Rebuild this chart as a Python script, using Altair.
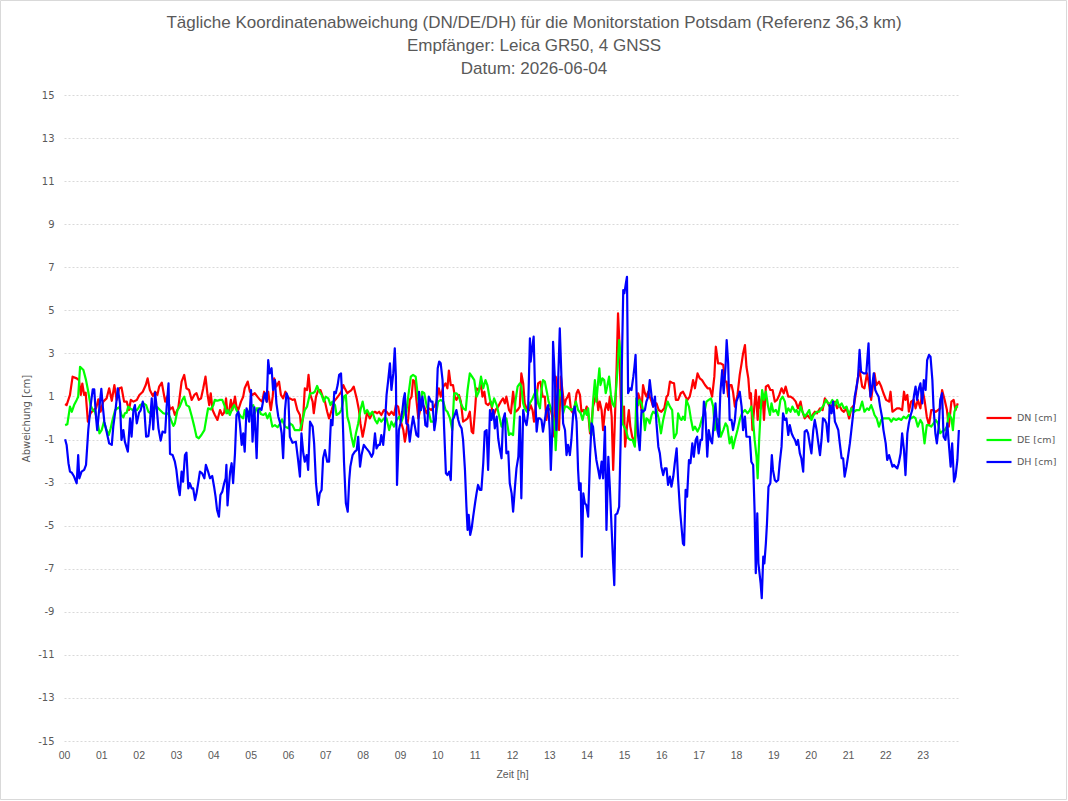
import altair as alt
import pandas as pd

# Tägliche Koordinatenabweichungen der Monitorstation Potsdam, Stunde des Tages -> cm
DN_H = [0.03, 0.07, 0.16, 0.23, 0.34, 0.4, 0.45, 0.49, 0.54, 0.58, 0.64, 0.71, 0.79, 0.86, 0.92, 0.98, 1.05, 1.14, 1.21, 1.28, 1.35, 1.41, 1.48, 1.54, 1.61, 1.68, 1.74, 1.79, 1.86, 1.95, 2.02, 2.11, 2.19, 2.24, 2.3, 2.38, 2.44, 2.5, 2.55, 2.62, 2.71, 2.77, 2.84, 2.91,
        2.97, 3.06, 3.15, 3.22, 3.28, 3.35, 3.42, 3.49, 3.55, 3.61, 3.67, 3.73, 3.79, 3.84, 3.89, 3.93, 3.98, 4.04, 4.11, 4.18, 4.24, 4.29, 4.34, 4.38, 4.43, 4.47, 4.51, 4.58, 4.62, 4.67, 4.74, 4.8, 4.84, 4.92, 4.98, 5.04, 5.11, 5.18, 5.25, 5.31, 5.36, 5.43, 5.47, 5.54, 5.59, 5.63, 5.69, 5.76, 5.81, 5.87, 5.93, 6.01,
        6.05, 6.12, 6.18, 6.25, 6.32, 6.36, 6.41, 6.45, 6.51, 6.55, 6.6, 6.66, 6.69, 6.75, 6.81, 6.87, 6.93, 6.99, 7.05, 7.1, 7.17, 7.23, 7.3, 7.37, 7.43, 7.48, 7.52, 7.59, 7.64, 7.7, 7.76, 7.84, 7.9, 7.94, 8.0, 8.06, 8.12, 8.19, 8.26, 8.33, 8.39, 8.44, 8.5, 8.57, 8.64, 8.71, 8.77, 8.84, 8.89, 8.95, 9.01, 9.09,
        9.13, 9.17, 9.22, 9.26, 9.31, 9.35, 9.4, 9.44, 9.49, 9.53, 9.59, 9.65, 9.71, 9.77, 9.84, 9.92, 9.98, 10.04, 10.09, 10.16, 10.22, 10.27, 10.31, 10.36, 10.42, 10.47, 10.51, 10.58, 10.63, 10.69, 10.76, 10.81, 10.87, 10.92, 10.96, 11.01, 11.05, 11.11, 11.17, 11.21, 11.26, 11.3, 11.36, 11.43, 11.5, 11.56, 11.63, 11.7, 11.76, 11.81, 11.85, 11.92, 11.97, 12.03, 12.09, 12.15,
        12.21, 12.25, 12.3, 12.34, 12.39, 12.46, 12.5, 12.55, 12.59, 12.64, 12.7, 12.76, 12.82, 12.88, 12.92, 12.97, 13.03, 13.08, 13.13, 13.17, 13.22, 13.26, 13.31, 13.35, 13.4, 13.44, 13.49, 13.53, 13.58, 13.64, 13.68, 13.73, 13.77, 13.82, 13.86, 13.91, 13.95, 14.0, 14.04, 14.09, 14.13, 14.17, 14.22, 14.26, 14.31, 14.35, 14.4, 14.44, 14.49, 14.53, 14.58, 14.62, 14.67, 14.71, 14.75, 14.8, 14.84, 14.87, 14.91, 14.96, 15.0, 15.03, 15.08, 15.13, 15.17, 15.22, 15.26,
        15.29, 15.33, 15.38, 15.42, 15.47, 15.51, 15.56, 15.6, 15.65, 15.69, 15.74, 15.78, 15.83, 15.87, 15.93, 16.0, 16.08, 16.14, 16.18, 16.23, 16.29, 16.34, 16.39, 16.45, 16.52, 16.58, 16.65, 16.7, 16.76, 16.81, 16.85, 16.9, 16.97, 17.03, 17.09, 17.17, 17.24, 17.3, 17.36, 17.42, 17.46, 17.52, 17.59, 17.66, 17.7, 17.75, 17.79, 17.83, 17.88, 17.92, 17.97, 18.04, 18.1, 18.15, 18.19, 18.24, 18.28, 18.33,
        18.37, 18.4, 18.44, 18.49, 18.53, 18.58, 18.62, 18.66, 18.71, 18.75, 18.8, 18.86, 18.92, 18.98, 19.04, 19.1, 19.16, 19.22, 19.28, 19.33, 19.4, 19.46, 19.53, 19.6, 19.66, 19.73, 19.78, 19.84, 19.91, 19.98, 20.05, 20.11, 20.17, 20.25, 20.32, 20.38, 20.44, 20.51, 20.58, 20.65, 20.71, 20.76, 20.83, 20.89, 20.96, 21.03, 21.09, 21.16, 21.21, 21.27,
        21.31, 21.38, 21.44, 21.51, 21.56, 21.62, 21.67, 21.71, 21.76, 21.83, 21.89, 21.95, 22.02, 22.1, 22.14, 22.19, 22.25, 22.31, 22.38, 22.45, 22.5, 22.54, 22.59, 22.63, 22.69, 22.76, 22.81, 22.87, 22.94, 22.99, 23.05, 23.11, 23.17, 23.23, 23.29, 23.35, 23.41, 23.47, 23.52, 23.59, 23.65, 23.7, 23.77, 23.83, 23.88, 23.94]
DN_V = [0.65, 0.6, 1.07, 1.92, 1.84, 1.76, 1.07, 1.6, 1.07, 1.18, -0.17, 0.22, 0.37, 0.45, 0.87, 0.29, 0.76, 0.91, 1.38, 0.8, 1.53, 0.84, 1.38, 1.42, 0.76, 0.76, 0.37, 0.84, 0.76, 0.84, 1.07, 1.22, 1.53, 1.84, 1.3, 1.02, 1.22, 1.07, 1.46, 1.64, 0.76, 1.02, 0.4, 0.5,
        0.14, 0.45, 1.69, 2.0, 1.38, 1.3, 0.84, 1.07, 1.15, 0.84, 0.91, 1.38, 1.92, 1.15, 0.6, 1.15, 0.37, 0.14, -0.09, 0.37, 0.14, 0.25, 0.91, 0.22, 0.37, 0.84, 0.37, 0.99, 0.53, 0.37, 0.76, 0.99, 1.38, 1.69, 1.22, 1.07, 1.15, 0.99, 0.84, 0.76, 1.22, 0.76, 1.22, 0.37, 0.99, 1.84, 1.46, 1.69, 1.07, 0.91, 1.22, 0.91,
        0.91, 0.84, 0.87, 0.37, 0.14, -0.56, 0.14, 1.38, 1.3, 2.0, 1.07, 0.76, 0.22, 0.99, 1.3, 1.3, 0.99, 0.76, 0.29, -0.02, 0.37, 0.76, 0.91, 1.07, 1.22, 1.53, 1.38, 1.15, 1.22, 1.3, 1.46, 0.91, 0.37, -0.25, -0.87, -0.33, 0.29, -0.02, 0.22, 0.29, 0.22, 0.29, 0.14, 0.37, 0.29, 0.14, 0.29, 0.14, 0.6, 0.53, -0.09, -0.56,
        -1.1, -0.71, -0.02, 0.84, 0.99, 1.76, 1.69, 0.84, -0.02, 0.29, 0.6, 0.53, 0.22, 0.45, 0.37, 0.53, 0.76, 1.38, 0.99, 1.46, 1.61, 1.38, 2.2, 1.53, 1.53, 0.99, 0.84, 1.07, 0.76, -0.17, -0.09, -0.02, 0.29, -0.63, -0.71, 0.37, 1.38, 1.3, 1.53, 0.99, 1.22, 0.68, 0.6, 0.76, 0.06, 0.37, 0.53, 0.76, 0.91, 0.68, 0.99, 0.37, 0.22, 1.22, 0.29, 0.37,
        0.53, 2.07, 1.61, 0.68, 0.45, 0.37, 0.6, 0.37, -0.17, 0.68, 1.61, 1.69, 0.99, 0.99, -0.09, 0.37, 0.45, 0.06, -0.87, 1.92, 1.61, -0.56, 1.92, 1.3, 0.53, 0.84, 0.99, 1.15, 0.37, 0.22, 0.53, 1.15, 1.3, 1.07, 0.29, 0.37, 0.22, 0.53, 0.22, -0.71, -0.25, 0.53, 0.84, 1.22, 0.37, 0.76, 0.37, -0.56, 0.37, 0.68, 0.37, 0.99, 0.06, -2.41, -0.4, 2.23, 4.86, 3.78, 0.99, -0.25, 0.53, -1.33, -0.4, 0.37, -0.4, -0.87, -1.02,
        -1.25, -0.09, 1.15, 0.91, 0.37, 1.53, 1.15, 0.99, 1.22, 0.99, 0.76, 0.53, 0.68, 0.68, 0.37, 0.29, 0.45, 0.99, 1.07, 1.69, 1.64, 1.61, 0.84, 0.84, 1.15, 1.22, 0.99, 0.84, 0.99, 1.38, 1.76, 1.38, 2.07, 1.84, 1.76, 1.53, 1.38, 1.38, 0.99, 1.92, 3.31, 2.54, 2.54, 2.46, 1.69, 1.69, 0.99, 1.53, 1.53, 1.22, 0.53, 1.07, 2.0, 2.54, 3.0, 3.39, 2.38, 1.84,
        0.91, 1.15, -0.56, 0.53, 1.3, -0.09, 0.99, 0.45, 1.07, -0.09, 1.46, 1.53, 1.3, 1.3, 0.76, 0.84, 1.07, 1.38, 1.15, 1.46, 0.99, 0.99, 0.91, 0.76, 0.45, 0.76, 0.29, -0.02, 0.14, -0.02, 0.14, 0.29, 0.22, 0.45, 0.37, 0.91, 0.76, 0.53, 0.6, 0.76, 0.45, 0.6, 0.37, 0.29, 0.45, -0.02, 0.45, 0.6, 1.15, 1.92,
        2.23, 1.46, 1.38, 2.07, 1.61, 0.84, 1.53, 2.07, 1.53, 1.69, 1.46, 1.15, 0.84, 0.76, 1.22, 0.29, 0.37, 0.45, 0.45, 0.37, 1.22, 0.84, 1.07, 0.29, 0.76, 0.84, 0.45, 0.84, 0.45, 1.38, 0.84, 0.06, -0.33, 0.37, 0.37, 0.29, 0.37, 0.45, 1.3, 0.84, 0.37, -0.4, 0.76, 0.84, 0.37, 0.68]

DE_H = [0.03, 0.09, 0.16, 0.21, 0.27, 0.34, 0.38, 0.43, 0.52, 0.59, 0.65, 0.71, 0.77, 0.83, 0.89, 0.95, 1.01, 1.07, 1.14, 1.2, 1.25, 1.3, 1.37, 1.43, 1.48, 1.54, 1.59, 1.63, 1.68, 1.72, 1.77, 1.84, 1.9, 1.96, 2.04, 2.13, 2.2, 2.26, 2.32, 2.39, 2.44, 2.5, 2.57, 2.66, 2.73, 2.79, 2.86, 2.93,
        2.97, 3.04, 3.1, 3.17, 3.22, 3.28, 3.35, 3.42, 3.49, 3.55, 3.61, 3.68, 3.76, 3.82, 3.86, 3.93, 4.0, 4.04, 4.11, 4.18, 4.24, 4.31, 4.35, 4.4, 4.44, 4.51, 4.56, 4.62, 4.68, 4.74, 4.8, 4.84, 4.89, 4.95, 5.01, 5.07, 5.11, 5.16, 5.22, 5.27, 5.34, 5.4, 5.45, 5.51, 5.58, 5.65, 5.72, 5.78, 5.84, 5.92, 6.01,
        6.05, 6.12, 6.18, 6.25, 6.32, 6.39, 6.45, 6.51, 6.59, 6.66, 6.72, 6.78, 6.84, 6.9, 6.96, 7.01, 7.08, 7.14, 7.19, 7.26, 7.3, 7.37, 7.43, 7.5, 7.55, 7.59, 7.64, 7.7, 7.76, 7.82, 7.88, 7.94, 8.0, 8.06, 8.12, 8.19, 8.26, 8.33, 8.39, 8.44, 8.5, 8.57, 8.64, 8.71, 8.77, 8.84, 8.91, 8.98, 9.04, 9.1,
        9.13, 9.17, 9.22, 9.29, 9.35, 9.42, 9.49, 9.56, 9.59, 9.65, 9.71, 9.77, 9.83, 9.89, 9.95, 10.02, 10.09, 10.16, 10.22, 10.27, 10.34, 10.4, 10.45, 10.51, 10.58, 10.63, 10.69, 10.76, 10.81, 10.87, 10.93, 10.99, 11.05, 11.11, 11.17, 11.23, 11.29, 11.34, 11.41, 11.47, 11.52, 11.59, 11.65, 11.72, 11.79, 11.85, 11.92, 11.97, 12.03, 12.09, 12.15,
        12.21, 12.25, 12.3, 12.34, 12.4, 12.48, 12.55, 12.61, 12.66, 12.7, 12.75, 12.79, 12.83, 12.88, 12.94, 12.98, 13.06, 13.1, 13.15, 13.17, 13.22, 13.26, 13.33, 13.37, 13.42, 13.48, 13.53, 13.59, 13.66, 13.71, 13.77, 13.84, 13.89, 13.95, 14.0, 14.04, 14.09, 14.13, 14.17, 14.22, 14.26, 14.31, 14.34, 14.37, 14.42, 14.47, 14.51, 14.55, 14.6, 14.65, 14.69, 14.74, 14.78, 14.83, 14.87, 14.92, 14.96, 15.0, 15.05, 15.11, 15.17, 15.23,
        15.29, 15.33, 15.38, 15.42, 15.47, 15.51, 15.56, 15.6, 15.65, 15.69, 15.74, 15.78, 15.83, 15.87, 15.93, 15.99, 16.05, 16.11, 16.17, 16.23, 16.29, 16.34, 16.41, 16.45, 16.5, 16.54, 16.58, 16.63, 16.67, 16.74, 16.79, 16.85, 16.9, 16.97, 17.03, 17.09, 17.15, 17.21, 17.27, 17.33, 17.39, 17.43, 17.48, 17.54, 17.59, 17.66, 17.72, 17.77, 17.83, 17.88, 17.92, 17.97, 18.04, 18.1, 18.16, 18.24, 18.31,
        18.37, 18.41, 18.46, 18.5, 18.55, 18.58, 18.62, 18.66, 18.7, 18.75, 18.8, 18.86, 18.91, 18.95, 19.0, 19.07, 19.13, 19.19, 19.25, 19.31, 19.35, 19.4, 19.46, 19.51, 19.58, 19.62, 19.68, 19.73, 19.78, 19.84, 19.91, 19.96, 20.02, 20.08, 20.16, 20.23, 20.29, 20.35, 20.41, 20.47, 20.53, 20.58, 20.65, 20.71, 20.76, 20.83, 20.89, 20.96, 21.03, 21.09, 21.16, 21.23,
        21.31, 21.38, 21.44, 21.51, 21.56, 21.62, 21.67, 21.71, 21.77, 21.83, 21.89, 21.95, 22.02, 22.1, 22.16, 22.22, 22.29, 22.36, 22.43, 22.49, 22.56, 22.63, 22.69, 22.76, 22.81, 22.87, 22.94, 22.99, 23.05, 23.11, 23.17, 23.23, 23.29, 23.35, 23.41, 23.47, 23.52, 23.59, 23.65, 23.7, 23.77, 23.81, 23.85, 23.9, 23.95]
DE_V = [-0.33, -0.29, 0.53, 0.29, 0.6, 0.84, 0.99, 2.38, 2.23, 1.76, 1.22, 0.6, 0.37, 0.29, -0.09, -0.71, -0.56, -0.17, -0.56, -0.79, -0.48, -0.09, 0.37, 0.45, 0.5, 0.14, 0.03, 0.22, 0.25, 0.53, 0.45, 0.37, 0.4, 0.37, 0.6, 0.68, 0.6, 0.29, 0.22, 0.37, 0.45, 0.5, 0.37, 0.22, 0.19, 0.22, -0.06, -0.37,
        -0.25, 0.37, 0.53, 0.84, 0.99, 0.6, 0.53, 0.09, -0.4, -0.87, -0.94, -0.79, -0.56, 0.06, 0.45, 0.4, 0.6, 0.84, 0.8, 0.84, 0.84, 0.53, 0.22, 0.37, 0.14, 0.45, 0.6, 0.37, 0.22, 0.06, -0.02, 0.37, 0.06, 0.22, 0.53, 0.6, 0.22, 0.45, 0.45, 0.19, 0.14, 0.22, -0.02, 0.22, -0.4, -0.33, -0.43, -0.28, -0.06, -0.4, -0.48,
        -0.25, -0.33, -0.56, -0.56, -0.56, -0.09, 0.37, 0.53, 1.15, 1.15, 1.22, 1.49, 1.22, 1.07, 0.76, 0.99, 0.91, 0.6, 0.76, 0.6, 0.14, 0.22, 0.37, 0.99, 1.07, 0.06, -0.25, -0.87, -1.33, -0.71, -0.25, 0.37, 0.76, 0.22, 0.37, 0.14, 0.29, -0.09, -0.25, -0.02, -0.17, -0.02, -0.02, -0.56, -0.17, -0.4, -0.09, 0.06, -0.17, 0.14,
        0.68, 0.29, 0.99, 1.92, 2.0, 1.92, 0.84, 0.37, 1.22, 1.15, 0.6, 0.29, -0.17, -0.17, -0.02, 0.76, 0.84, 0.76, 0.37, 0.29, -0.02, -0.56, 1.15, 1.15, 0.99, 0.68, 0.45, 0.37, 1.3, 2.07, 1.92, 1.76, 0.99, 1.22, 1.92, 1.38, 1.76, 1.53, 0.84, 0.53, 0.91, 0.6, 0.14, -0.4, -0.09, -0.02, -0.79, -0.71, -0.79, 0.76, 1.46,
        1.61, 1.46, 0.68, 0.45, 0.29, 0.68, 0.91, 1.15, 1.3, 0.68, 0.45, 1.3, 1.76, 1.69, 1.15, 0.76, 0.37, 0.06, -0.56, -1.49, 0.22, 1.3, 0.99, 0.22, 0.53, 0.53, 0.45, 0.37, 0.45, 0.76, 0.37, 0.22, -0.09, 0.37, 0.14, 0.45, -0.56, -0.79, 0.76, 1.76, 0.76, 1.76, 2.31, 1.53, 1.84, 1.76, 1.15, 1.46, 1.92, 1.07, 0.68, 0.53, 1.15, 2.38, 3.62, 2.69, -0.25, -0.4, -0.56, -0.94, -1.02, -1.02,
        -1.33, 0.91, 0.6, 0.84, 0.68, 0.37, -0.56, -0.02, -0.09, -0.25, 0.14, 0.29, 0.22, 0.37, -0.02, -0.71, -0.09, 0.37, 0.76, 0.53, 0.37, -0.94, -0.71, 0.22, -0.02, -0.09, 0.06, -0.09, 0.84, 0.53, -0.02, -0.56, -0.4, -0.63, -0.4, -0.02, 0.22, 0.76, 0.84, 0.91, 0.53, -0.56, -0.02, -0.09, -0.87, -0.56, -0.25, -0.4, -1.18, -0.87, -1.41, -1.02, -0.56, -0.09, 0.22, 0.37, 0.22,
        0.37, 0.53, -0.17, -1.02, -1.8, -2.8, -1.02, 0.29, 1.3, 0.84, 1.22, 0.53, 0.14, 0.68, 0.29, 0.37, 0.14, 0.84, 0.99, 0.76, 0.22, 0.45, 0.29, 0.53, 0.29, 0.37, 0.14, 0.53, 0.29, 0.06, 0.22, 0.37, -0.09, 0.14, 0.29, 0.29, 0.45, 0.6, 0.84, 0.68, 0.68, 0.84, 0.6, 0.84, 0.53, 0.68, 0.45, 0.53, 0.14, 0.45, 0.29, 0.37,
        0.37, 0.76, 0.29, 0.45, 0.37, 0.6, 0.37, 0.14, -0.02, -0.4, -0.09, -0.02, -0.02, -0.02, -0.17, -0.02, -0.09, -0.02, -0.09, 0.06, -0.02, 0.14, -0.02, 0.06, -0.02, -0.4, -0.09, -0.25, -1.18, -0.33, -0.33, -0.4, -0.25, -0.09, -0.25, -0.71, -0.63, -0.56, -0.4, 0.22, -0.02, -0.56, 0.29, 0.53, 0.53]

DH_H = [0.03, 0.07, 0.12, 0.16, 0.21, 0.27, 0.34, 0.38, 0.41, 0.47, 0.54, 0.59, 0.65, 0.71, 0.77, 0.81, 0.86, 0.89, 0.95, 1.0, 1.04, 1.08, 1.14, 1.21, 1.28, 1.32, 1.39, 1.44, 1.5, 1.54, 1.59, 1.63, 1.71, 1.77, 1.81, 1.86, 1.9, 1.95, 2.01, 2.05, 2.11, 2.15, 2.2, 2.26, 2.3, 2.35, 2.39, 2.44, 2.48, 2.53, 2.59, 2.64, 2.71, 2.75, 2.8, 2.84, 2.91,
        2.97, 3.01, 3.06, 3.1, 3.15, 3.19, 3.24, 3.28, 3.33, 3.37, 3.42, 3.46, 3.51, 3.55, 3.6, 3.64, 3.7, 3.76, 3.8, 3.86, 3.91, 3.97, 4.02, 4.06, 4.1, 4.15, 4.19, 4.24, 4.29, 4.33, 4.35, 4.38, 4.42, 4.45, 4.49, 4.53, 4.58, 4.62, 4.67, 4.71, 4.76, 4.8, 4.84, 4.89, 4.93, 4.96, 5.01, 5.05, 5.1, 5.16, 5.2, 5.25, 5.29, 5.34, 5.38, 5.43, 5.47, 5.51, 5.56, 5.6, 5.65, 5.69, 5.74, 5.78, 5.83, 5.87, 5.92, 5.96, 6.01,
        6.05, 6.12, 6.21, 6.27, 6.32, 6.36, 6.41, 6.45, 6.5, 6.54, 6.59, 6.66, 6.7, 6.75, 6.81, 6.85, 6.9, 6.94, 6.99, 7.05, 7.1, 7.15, 7.19, 7.24, 7.28, 7.33, 7.37, 7.42, 7.45, 7.5, 7.55, 7.6, 7.64, 7.67, 7.73, 7.79, 7.84, 7.88, 7.93, 7.97, 8.03, 8.1, 8.17, 8.24, 8.28, 8.33, 8.37, 8.42, 8.46, 8.5, 8.55, 8.59, 8.64, 8.68, 8.73, 8.77, 8.82, 8.86, 8.89, 8.92, 8.97, 9.01, 9.06, 9.1,
        9.13, 9.17, 9.22, 9.26, 9.31, 9.35, 9.4, 9.44, 9.49, 9.51, 9.56, 9.6, 9.65, 9.68, 9.73, 9.77, 9.83, 9.87, 9.92, 9.96, 10.01, 10.05, 10.09, 10.14, 10.18, 10.23, 10.27, 10.32, 10.36, 10.41, 10.45, 10.51, 10.56, 10.6, 10.65, 10.69, 10.74, 10.78, 10.81, 10.84, 10.88, 10.92, 10.96, 11.01, 11.05, 11.09, 11.14, 11.18, 11.23, 11.27, 11.32, 11.36, 11.41, 11.45, 11.5, 11.54, 11.59, 11.63, 11.67, 11.72, 11.76, 11.81, 11.85, 11.9, 11.94, 11.99, 12.03, 12.08, 12.12, 12.17,
        12.21, 12.25, 12.3, 12.34, 12.39, 12.43, 12.48, 12.5, 12.54, 12.58, 12.62, 12.66, 12.7, 12.75, 12.79, 12.83, 12.88, 12.92, 12.97, 13.01, 13.04, 13.08, 13.1, 13.15, 13.19, 13.24, 13.28, 13.33, 13.37, 13.42, 13.46, 13.5, 13.55, 13.59, 13.64, 13.68, 13.73, 13.77, 13.8, 13.84, 13.87, 13.91, 13.95, 13.99, 14.04, 14.09, 14.13, 14.17, 14.22, 14.26, 14.31, 14.35, 14.4, 14.44, 14.49, 14.53, 14.58, 14.62, 14.67, 14.71, 14.74, 14.77, 14.82, 14.87, 14.91, 14.94, 14.98, 15.01, 15.05, 15.08, 15.11, 15.16, 15.2, 15.25, 15.28,
        15.31, 15.35, 15.38, 15.42, 15.47, 15.51, 15.56, 15.6, 15.65, 15.69, 15.74, 15.78, 15.83, 15.87, 15.92, 15.96, 16.0, 16.05, 16.09, 16.14, 16.18, 16.23, 16.27, 16.32, 16.36, 16.41, 16.45, 16.5, 16.54, 16.58, 16.61, 16.65, 16.69, 16.74, 16.78, 16.83, 16.87, 16.92, 16.96, 17.0, 17.05, 17.09, 17.14, 17.18, 17.23, 17.27, 17.32, 17.36, 17.41, 17.45, 17.5, 17.54, 17.58, 17.63, 17.67, 17.72, 17.75, 17.79, 17.83, 17.88, 17.92, 17.97, 18.01, 18.06, 18.1, 18.15, 18.19, 18.24, 18.28, 18.33,
        18.37, 18.41, 18.46, 18.5, 18.53, 18.57, 18.6, 18.66, 18.69, 18.73, 18.76, 18.8, 18.83, 18.87, 18.92, 18.96, 18.99, 19.04, 19.08, 19.13, 19.17, 19.22, 19.26, 19.31, 19.35, 19.4, 19.44, 19.49, 19.53, 19.58, 19.62, 19.66, 19.71, 19.75, 19.8, 19.84, 19.89, 19.93, 19.98, 20.02, 20.07, 20.11, 20.16, 20.2, 20.25, 20.29, 20.33, 20.38, 20.42, 20.47, 20.51, 20.56, 20.6, 20.65, 20.69, 20.74, 20.78, 20.83, 20.87, 20.91, 20.96, 21.0, 21.05, 21.09, 21.14, 21.18, 21.23, 21.27,
        21.31, 21.35, 21.42, 21.49, 21.55, 21.6, 21.64, 21.69, 21.73, 21.77, 21.82, 21.86, 21.91, 21.95, 22.01, 22.05, 22.1, 22.14, 22.19, 22.23, 22.27, 22.32, 22.36, 22.41, 22.45, 22.5, 22.54, 22.59, 22.63, 22.68, 22.72, 22.77, 22.81, 22.85, 22.9, 22.94, 22.99, 23.03, 23.08, 23.12, 23.17, 23.21, 23.26, 23.29, 23.34, 23.38, 23.43, 23.47, 23.52, 23.56, 23.61, 23.66, 23.7, 23.75, 23.79, 23.84, 23.88, 23.93, 23.97]
DH_V = [-0.99, -1.25, -2.1, -2.49, -2.54, -2.72, -3.03, -1.72, -2.8, -2.49, -2.41, -2.18, -0.56, 0.53, 1.33, 1.33, -0.02, -0.56, 0.53, 1.35, 0.53, -0.17, -0.63, -1.18, -1.25, -0.4, 0.53, 1.38, 0.68, -1.02, -0.56, -1.1, -1.56, -0.02, -0.87, 0.37, 0.6, -0.25, 0.25, 0.34, 0.76, 0.45, -0.87, -0.84, -0.25, 0.91, -0.53, 1.18, 0.53, -0.48, -1.05, -0.63, -0.68, 0.53, 1.61, -1.67, -1.72,
        -2.03, -2.41, -3.19, -3.58, -2.49, -2.96, -1.72, -1.61, -3.27, -3.03, -3.27, -3.27, -3.81, -3.5, -2.96, -2.49, -2.57, -2.8, -2.18, -2.49, -2.8, -2.69, -3.19, -3.65, -4.27, -4.58, -3.58, -3.42, -3.03, -2.8, -2.18, -4.06, -3.11, -2.49, -2.1, -3.03, -1.64, 0.14, 0.29, -0.25, -1.25, -0.71, -1.56, 0.45, 0.22, -0.17, 1.3, -1.1, 0.5, -1.87, 0.37, 0.45, 0.37, 0.84, 1.15, 0.76, 2.69, 2.07, 2.31, 1.3, 1.76, 0.68, 0.06, -0.17, -0.71, -1.87, 0.37, 1.15, 0.91,
        -0.87, -1.15, -1.1, -1.95, -2.72, -0.71, -1.64, -2.03, -1.72, -2.41, -0.17, -0.4, -1.18, -3.03, -4.04, -3.5, -3.34, -1.87, -1.49, -2.03, -2.03, -0.09, -0.33, 1.22, 1.15, 1.53, 2.0, 2.07, 0.99, -2.03, -3.96, -4.35, -2.88, -2.26, -1.72, -1.56, -1.49, -0.87, -2.26, -1.72, -1.25, -1.41, -1.56, -1.8, -1.64, -0.71, -1.41, -1.25, -1.25, -0.79, -1.25, -0.48, 1.07, 1.69, 2.54, 1.3, 2.07, 3.24, 1.92, -3.11, -0.56, -0.25, 0.29, 0.91,
        1.15, -0.25, -0.33, -1.1, -0.4, 0.06, -0.4, -0.79, -0.87, 1.22, 0.37, 0.99, 0.29, -0.33, -0.4, 0.99, 0.76, 0.76, -0.56, -0.09, 2.31, 2.62, 2.54, 1.76, -0.4, -2.57, -2.65, -2.49, -2.88, -0.09, 0.06, 0.37, -0.09, -0.33, -0.48, -1.02, -2.41, -4.12, -5.2, -4.5, -5.43, -5.12, -4.58, -3.96, -3.5, -3.11, -3.34, -3.34, -2.1, -0.63, -0.56, -2.41, 0.37, -0.09, 0.37, -0.48, 0.06, -0.94, -1.41, -1.87, -0.09, 0.22, -1.64, -1.56, -3.03, -3.5, -4.35, -3.19, -2.34, -1.8,
        0.06, -3.73, 0.37, -0.09, -0.33, 0.22, 3.7, 2.62, 3.24, 3.78, 1.15, -0.63, -0.02, -0.02, -0.09, -0.63, -0.09, 0.37, 0.6, -0.56, -2.41, -0.56, 3.54, 1.76, -0.56, 1.92, 4.16, 1.61, -0.25, -0.56, -1.72, -1.25, -1.72, -1.02, 0.22, 0.53, -0.17, -2.41, -3.34, -3.03, -6.44, -3.5, -3.96, -4.04, -4.58, -1.8, -0.25, -0.4, -1.33, -1.95, -2.41, -2.8, -2.03, -2.8, -0.4, -5.2, -1.8, -3.19, -5.2, -6.75, -7.76, -4.5, -4.43, -4.12, -1.02, 2.23, 5.94, 5.79, 6.25, 6.56, 1.15, 1.38, 1.3, 1.92, 2.38,
        2.93, 0.37, -0.87, -1.49, 0.37, 0.29, 0.37, 0.76, 0.99, 1.76, 0.99, 0.53, 0.99, -0.25, -1.33, -1.64, -2.26, -2.65, -2.34, -2.34, -3.11, -2.72, -3.19, -2.72, -2.1, -1.41, -2.88, -4.27, -5.05, -5.83, -5.9, -3.34, -3.65, -1.95, -2.1, -1.18, -1.8, -1.02, -0.87, -1.64, -1.02, -1.02, 0.76, 0.22, -1.8, -0.56, -1.02, -1.18, -0.09, 0.68, -0.56, -0.87, 1.15, 2.23, 1.15, 2.38, 3.62, 2.54, -0.09, -0.09, -0.56, -0.09, 0.76, 0.99, 1.22, 0.53, -0.56, 0.06, -0.87, -0.87,
        -0.87, -2.03, -2.18, -4.43, -7.21, -4.43, -6.75, -7.68, -8.37, -6.44, -6.75, -5.82, -4.89, -3.19, -3.03, -1.72, -2.41, -2.88, -2.96, -2.88, -2.1, -1.33, 0.22, -0.09, -0.02, -0.79, -0.33, -0.71, -0.87, -1.02, -1.25, -1.02, -1.64, -1.87, -2.49, -0.63, -0.56, -0.71, -1.25, -1.64, -0.56, -0.09, -0.56, -1.1, -1.72, -1.02, -0.02, -0.09, -0.25, -1.1, 0.6, 0.22, 0.76, -0.17, -0.33, -0.56, -1.18, -1.87, -1.87, -2.72, -2.26, -1.8, -1.18, -0.56, 0.22, 0.99, 1.46, 1.92,
        3.16, 2.15, 2.07, 2.07, 3.47, 0.99, 1.38, 2.07, 1.3, 1.15, 0.99, 0.53, 0.06, -0.56, -1.18, -1.95, -1.72, -1.95, -2.26, -2.18, -2.26, -2.34, -2.1, -1.64, -0.71, -1.49, -2.65, -0.71, -0.25, 0.14, 0.37, 1.07, 1.46, 0.84, 1.38, 1.61, 0.68, 1.76, 1.3, 2.69, 2.93, 2.85, 1.76, 0.53, -0.71, -1.18, -0.4, 0.84, 1.15, -0.87, -1.02, -0.25, -1.18, -2.26, -1.18, -2.96, -2.72, -1.95, -0.56]

SERIES = ["DN [cm]", "DE [cm]", "DH [cm]"]
COLORS = ["#ff0000", "#00ff00", "#0000ff"]
Y_TICKS = list(range(-15, 16, 2))
X_TICKS = list(range(0, 24))

GREY = "#595959"
NARROW = "Liberation Sans Narrow, Arial Narrow, sans-serif"
PLAIN = "DejaVu Sans, Verdana, sans-serif"

frames = []
for name, hours, vals in zip(SERIES, (DN_H, DE_H, DH_H), (DN_V, DE_V, DH_V)):
    frames.append(pd.DataFrame({"Zeit": hours, "Wert": vals, "Reihe": name}))
data = pd.concat(frames, ignore_index=True)

x_enc = alt.X(
    "Zeit:Q",
    scale=alt.Scale(domain=[0, 24], nice=False, zero=False),
    axis=alt.Axis(
        values=X_TICKS,
        labelExpr="datum.value < 10 ? '0' + datum.value : '' + datum.value",
        title="Zeit [h]",
        grid=False, domain=False, ticks=False,
        labelFont=NARROW, labelFontSize=10.5, labelColor=GREY, labelPadding=9,
        labelFlush=False,
        titleFont=NARROW, titleFontSize=10.5, titleColor=GREY, titleFontWeight="normal",
        titlePadding=9,
    ),
)
y_enc = alt.Y(
    "Wert:Q",
    scale=alt.Scale(domain=[-15, 15], nice=False),
    axis=alt.Axis(
        values=Y_TICKS,
        labelExpr="'' + datum.value",
        title="Abweichung [cm]",
        grid=True, gridColor="#d9d9d9", gridDash=[2, 2], gridWidth=1,
        domain=False, ticks=False,
        labelFont=PLAIN, labelFontSize=10, labelColor=GREY, labelPadding=10,
        titleFont=PLAIN, titleFontSize=10, titleColor=GREY, titleFontWeight="normal",
        titlePadding=6,
    ),
)
color_enc = alt.Color(
    "Reihe:N",
    scale=alt.Scale(domain=SERIES, range=COLORS),
    legend=alt.Legend(
        title=None, orient="none", legendX=921, legendY=309,
        symbolType="stroke", symbolSize=625, symbolStrokeWidth=2.2,
        labelFont=PLAIN, labelFontSize=9.5, labelColor=GREY, labelOffset=4,
        rowPadding=3,
    ),
)

# light solid line at zero (acts as the horizontal axis line)
zero_line = alt.Chart(pd.DataFrame({"Wert": [0]})).mark_rule(
    color="#d9d9d9", strokeWidth=1
).encode(y="Wert:Q")

layers = [zero_line]
for name in SERIES:
    layers.append(
        alt.Chart(data)
        .transform_filter(alt.datum.Reihe == name)
        .mark_line(strokeWidth=2.2, strokeJoin="round")
        .encode(x=x_enc, y=y_enc, color=color_enc, order="Zeit:Q")
    )

# thin frame around the whole figure
frame = alt.Chart(pd.DataFrame({"k": [0]})).mark_rect(
    fillOpacity=0, stroke="#d9d9d9", strokeWidth=1
).encode(
    x=alt.value(-63.5), x2=alt.value(1002.5), y=alt.value(-94.5), y2=alt.value(704.5)
)
layers.append(frame)

chart = (
    alt.layer(*layers)
    .properties(
        width=896,
        height=646,
        title=alt.TitleParams(
            text=[
                "Tägliche Koordinatenabweichung (DN/DE/DH) für die Monitorstation Potsdam (Referenz 36,3 km)",
                "Empfänger: Leica GR50, 4 GNSS",
                "Datum: 2026-06-04",
            ],
            anchor="middle", frame="group", dx=22, offset=-78,
            font=NARROW, fontSize=17, fontWeight="normal", color=GREY, lineHeight=23,
        ),
        autosize=alt.AutoSizeParams(type="none"),
        padding={"left": 64, "top": 95, "right": 108, "bottom": 60},
        background="white",
    )
    .configure_view(stroke=None)
)

chart.save("out.html", embed_options={"renderer": "svg", "actions": False})
